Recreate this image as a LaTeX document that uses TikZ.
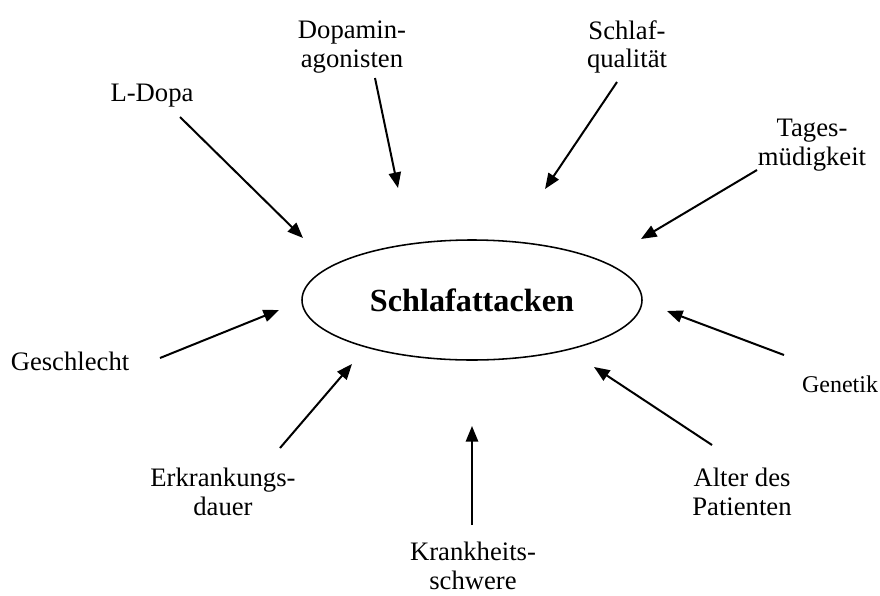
\documentclass[tikz,border=0pt]{standalone}
\usepackage{fontspec}
\setmainfont{Liberation Serif}
\usetikzlibrary{arrows.meta,shapes.geometric,positioning}

\begin{document}
\begin{tikzpicture}[x=0.45pt, y=-0.45pt, >={Triangle[length=7pt,width=5.5pt]},
                every node/.style={font=\fontsize{12}{13}\selectfont, align=center},
                factor/.style={inner sep=0pt}]
                \useasboundingbox (0,0) rectangle (880,595);
                \node[ellipse, draw, line width=0.7pt, minimum width=153pt, minimum height=54pt, inner sep=0pt, font=\fontsize{14.5}{16}\selectfont\bfseries] (sa) at (472,300) {Schlafattacken};
                \node[factor] (ldopa) at (152,96) {L-Dopa};
                \node[factor] (dopag) at (352,47) {Dopamin-\\agonisten};
                \node[factor] (squal) at (627,47) {Schlaf-\\qualität};
                \node[factor] (tmued) at (812,145) {Tages-\\müdigkeit};
                \node[factor] (gesch) at (70,361) {Geschlecht};
                \node[factor, font=\fontsize{10.8}{12}\selectfont] (genet) at (840,384) {Genetik};
                \node[factor] (edauer) at (223,492) {Erkrankungs-\\dauer};
                \node[factor] (kschw) at (473,566) {Krankheits-\\schwere};
                \node[factor] (alter) at (742,492) {Alter des\\Patienten};

                \coordinate (ldopa-s) at (180,117);  \coordinate (ldopa-e) at (303,238);
                \coordinate (dopag-s) at (375,78);   \coordinate (dopag-e) at (398,188);
                \coordinate (squal-s) at (617,82);   \coordinate (squal-e) at (545,189);
                \coordinate (tmued-s) at (757,170);  \coordinate (tmued-e) at (641,239);
                \coordinate (gesch-s) at (160,358);  \coordinate (gesch-e) at (279,310);
                \coordinate (genet-s) at (784,355);  \coordinate (genet-e) at (667,311);
                \coordinate (edauer-s) at (280,448); \coordinate (edauer-e) at (352,364);
                \coordinate (kschw-s) at (472,525);  \coordinate (kschw-e) at (472,426);
                \coordinate (alter-s) at (712,445);  \coordinate (alter-e) at (594,367);

                \path[->, line width=0.9pt]
                          (ldopa-s) edge (ldopa-e)
                          (dopag-s) edge (dopag-e)
                          (squal-s) edge (squal-e)
                          (tmued-s) edge (tmued-e)
                          (gesch-s) edge (gesch-e)
                          (genet-s) edge (genet-e)
                          (edauer-s) edge (edauer-e)
                          (kschw-s) edge (kschw-e)
                          (alter-s) edge (alter-e);
\end{tikzpicture}
\end{document}
